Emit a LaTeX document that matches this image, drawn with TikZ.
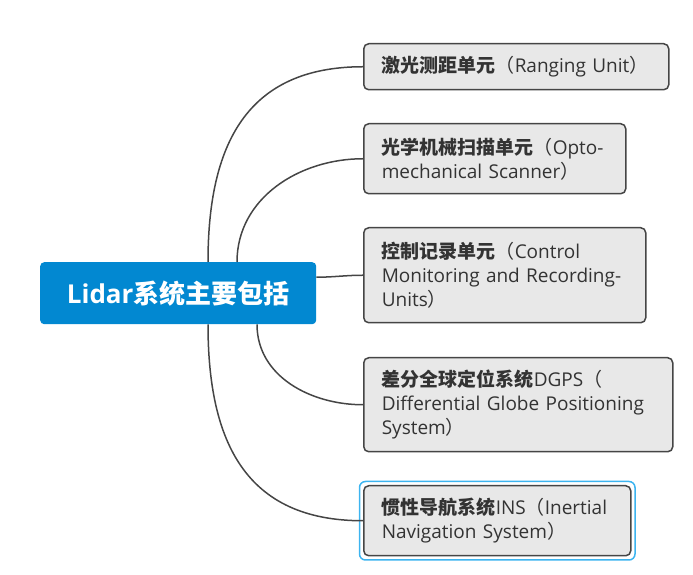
\documentclass[tikz,border=0pt]{standalone}
\usepackage{fontspec}
\setmainfont{Open Sans}
\newfontfamily\cjk{Noto Sans CJK SC}
\definecolor{mmblue}{RGB}{2,136,209}
\definecolor{mmfill}{RGB}{232,232,232}
\definecolor{mmdark}{RGB}{69,69,69}
\definecolor{mmtext}{RGB}{51,51,51}
\definecolor{mmsel}{RGB}{60,180,240}
\usetikzlibrary{calc}
\newcommand{\zh}[1]{{\cjk\bfseries #1}}
\newcommand{\lp}{{\cjk （}}
\newcommand{\rp}{{\cjk ）}}

\begin{document}
\begin{tikzpicture}[
  x=1pt, y=1pt,
  rootbox/.style={
    rectangle, rounded corners=4pt,
    fill=mmblue, draw=none,
    minimum width=276pt, minimum height=62pt,
    inner sep=0pt, anchor=north west,
    font=\fontsize{26}{30}\selectfont\bfseries,
    text=white
  },
  leafbox/.style={
    rectangle, rounded corners=5pt,
    draw=mmdark, line width=1.5pt,
    fill=mmfill,
    inner xsep=18pt, inner ysep=0pt, anchor=north west,
    font=\fontsize{19}{24}\selectfont,
    align=left,
    text=mmtext
  },
  link/.style={draw=mmdark, line width=1.5pt},
  selring/.style={draw=mmsel, line width=1.5pt, rounded corners=6pt}
]
\useasboundingbox (0,0) rectangle (693,575);

\node[rootbox] (root) at (40,313) {Lidar\zh{系统主要包括}};

\node[leafbox, text width=269pt, minimum height=46pt] (b1) at (363,532)
  {\zh{激光测距单元}\lp Ranging Unit\rp};
\node[leafbox, text width=226pt, minimum height=70pt] (b2) at (363,452)
  {\zh{光学机械扫描单元}\lp Opto-\\mechanical Scanner\rp};
\node[leafbox, text width=246pt, minimum height=95pt] (b3) at (363,348)
  {\zh{控制记录单元}\lp Control\\Monitoring and Recording-\\Units\rp};
\node[leafbox, text width=273pt, minimum height=94pt] (b4) at (363,218)
  {\zh{差分全球定位系统}DGPS\lp\\Differential Globe Positioning\\System\rp};
\node[leafbox, text width=231pt, minimum height=70pt] (b5) at (363,90)
  {\zh{惯性导航系统}INS\lp Inertial\\Navigation System\rp};

% selection ring
\draw[selring] ($(b5.north west)+(-3.5,3.5)$) rectangle ($(b5.south east)+(3.5,-3.5)$);

\draw[link] ([xshift=168pt]root.north west) to[out=90, in=180, looseness=1.2] (b1.west);
\draw[link] ([xshift=197pt]root.north west) to[out=90, in=180] (b2.west);
\draw[link] ([yshift=16pt]root.east) to[out=0, in=180] (b3.west);
\draw[link] ([xshift=217pt]root.south west) to[out=-90, in=180] (b4.west);
\draw[link] ([xshift=168pt]root.south west) to[out=-90, in=180, looseness=1.2] (b5.west);
\end{tikzpicture}
\end{document}
